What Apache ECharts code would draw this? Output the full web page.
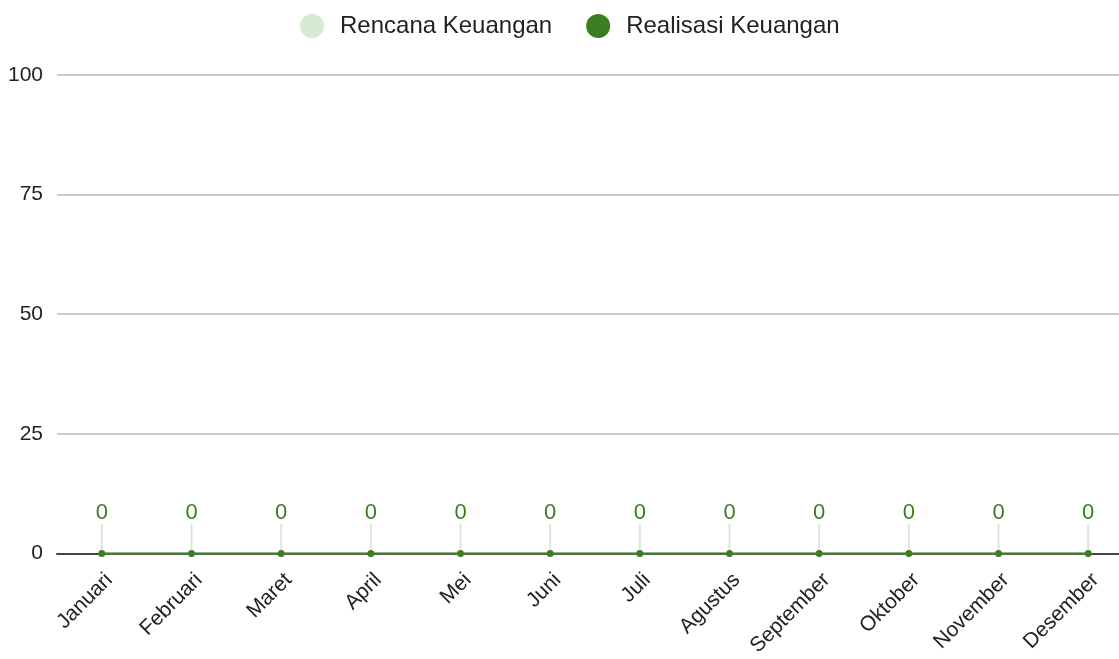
<!DOCTYPE html>
<html>
<head>
<meta charset="utf-8">
<title>Keuangan</title>
<script src="https://cdn.jsdelivr.net/npm/echarts@6/dist/echarts.min.js"></script>
<style>
  html, body { margin: 0; padding: 0; background: #fff; overflow: hidden; }
  #chart { width: 1135px; height: 659px; }
</style>
</head>
<body>
<div id="chart"></div>
<script>
var bulan = ['Januari', 'Februari', 'Maret', 'April', 'Mei', 'Juni', 'Juli', 'Agustus', 'September', 'Oktober', 'November', 'Desember'];
var rencana = [0, 0, 0, 0, 0, 0, 0, 0, 0, 0, 0, 0];
var realisasi = [0, 0, 0, 0, 0, 0, 0, 0, 0, 0, 0, 0];

// canvas is a bit wider than the window so the last band runs off the right edge
var chart = echarts.init(document.getElementById('chart'));
var option = {
  textStyle: { fontFamily: '"Liberation Sans", Arial, sans-serif' },
  legend: {
    top: 9,
    left: 295,
    icon: 'circle',
    itemWidth: 24,
    itemHeight: 24,
    itemGap: 34,
    textStyle: { fontSize: 24, color: '#222', padding: [0, 0, 0, 11] },
    data: ['Rencana Keuangan', 'Realisasi Keuangan']
  },
  grid: { left: 57, right: 2, top: 75, height: 480 },
  xAxis: {
    type: 'category',
    data: bulan,
    axisLine: { lineStyle: { color: '#444', width: 2 } },
    axisTick: { show: false },
    axisLabel: { rotate: 45, fontSize: 21, color: '#222', margin: 16, verticalAlign: 'top' }
  },
  yAxis: {
    type: 'value',
    min: 0,
    max: 100,
    interval: 25,
    axisLine: { show: false },
    axisTick: { show: false },
    axisLabel: { fontSize: 21, color: '#222', margin: 14 },
    splitLine: { lineStyle: { color: '#ccc', width: 2 } }
  },
  series: [
    {
      name: 'Rencana Keuangan',
      type: 'line',
      data: rencana,
      symbol: 'circle',
      symbolSize: 6,
      itemStyle: { color: '#d6ebd2' },
      lineStyle: { color: '#d6ebd2', width: 2 }
    },
    {
      name: 'Realisasi Keuangan',
      type: 'line',
      data: realisasi,
      symbol: 'circle',
      symbolSize: 7,
      itemStyle: { color: '#3a7d22' },
      lineStyle: { color: '#3a7d22', width: 2 },
      label: { show: true, position: 'top', distance: 2, fontSize: 22, color: '#3a7d22' },
      labelLayout: { dy: -24 },
      labelLine: { show: true, lineStyle: { color: '#e2e2e2', width: 2 } }
    }
  ]
};
chart.setOption(option);
</script>
</body>
</html>
